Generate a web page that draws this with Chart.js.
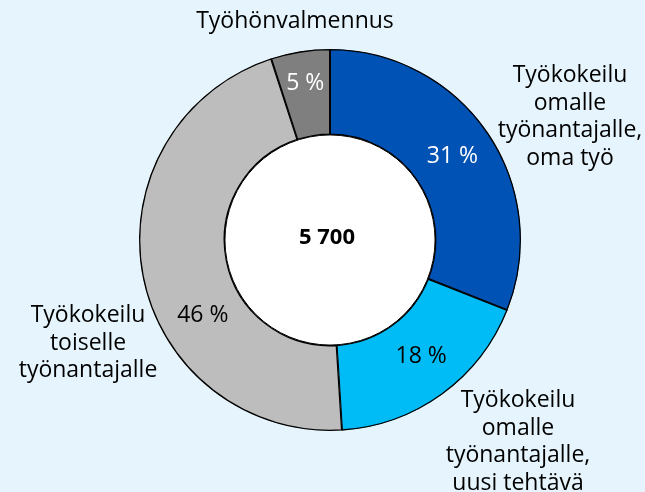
<!DOCTYPE html>
<html>
<head>
<meta charset="utf-8">
<script src="https://cdn.jsdelivr.net/npm/chart.js@4"></script>
<style>
  html, body { margin: 0; padding: 0; background: #E6F5FD; }
  #wrap { width: 645px; height: 492px; }
</style>
</head>
<body>
<div id="wrap"><canvas id="chart" width="645" height="492"></canvas></div>
<script>
// Doughnut data, clockwise from 12 o'clock
const categories = [
  "Työkokeilu omalle työnantajalle, oma työ",
  "Työkokeilu omalle työnantajalle, uusi tehtävä",
  "Työkokeilu toiselle työnantajalle",
  "Työhönvalmennus"
];
const shares = [31, 18, 46, 5];
const total = "5 700";
const colors = ["#0053B5", "#00BCF6", "#BDBDBD", "#7F7F7F"];
const valueColors = ["#FFFFFF", "#000000", "#000000", "#FFFFFF"];

// category names split the way they are wrapped in the picture
const labelLines = [
  ["Työkokeilu", "omalle", "työnantajalle,", "oma työ"],
  ["Työkokeilu", "omalle", "työnantajalle,", "uusi tehtävä"],
  ["Työkokeilu", "toiselle", "työnantajalle"],
  ["Työhönvalmennus"]
];
// where the names sit (centre x, first baseline)
const labelPos = [[570, 82], [518, 407], [88, 322], [295, 28]];
const LINE_H = 27.7;
// the 46 % label was nudged off the slice middle in the original
const valueAngleShift = [0, -2, -20, 0];
const valueRadiusShift = [0, 0, 0, 10];

const FONT = "'Open Sans', sans-serif";

const labelPlugin = {
  id: "labels",
  afterDatasetsDraw(chart) {
    const ctx = chart.ctx;
    const meta = chart.getDatasetMeta(0);
    const arc0 = meta.data[0];
    ctx.save();
    // white hole
    ctx.beginPath();
    ctx.arc(arc0.x, arc0.y, arc0.innerRadius, 0, Math.PI * 2);
    ctx.fillStyle = "#FFFFFF";
    ctx.fill();
    ctx.lineWidth = 1;
    ctx.strokeStyle = "#000000";
    ctx.stroke();

    ctx.textAlign = "center";
    ctx.textBaseline = "middle";
    ctx.font = "bold 22px " + FONT;
    ctx.fillStyle = "#000000";
    ctx.fillText(total, arc0.x - 3, arc0.y - 2);

    // percentages inside slices
    ctx.font = "23px " + FONT;
    meta.data.forEach((arc, i) => {
      const mid = (arc.startAngle + arc.endAngle) / 2 + valueAngleShift[i] * Math.PI / 180;
      const r = (arc.innerRadius + arc.outerRadius) / 2 + valueRadiusShift[i];
      ctx.fillStyle = valueColors[i];
      ctx.fillText(shares[i] + " %", arc.x + Math.cos(mid) * r, arc.y + Math.sin(mid) * r);
    });

    // category labels outside
    ctx.textBaseline = "alphabetic";
    ctx.fillStyle = "#000000";
    labelLines.forEach((lines, i) => {
      lines.forEach((t, j) => {
        ctx.fillText(t, labelPos[i][0], labelPos[i][1] + j * LINE_H);
      });
    });
    ctx.restore();
  }
};

new Chart(document.getElementById("chart"), {
  type: "doughnut",
  data: {
    labels: categories,
    datasets: [{
      data: shares,
      backgroundColor: colors,
      borderColor: "#000000",
      borderWidth: 1,
      borderAlign: "inner"
    }]
  },
  options: {
    responsive: false,
    animation: false,
    cutout: "55%",
    layout: { padding: { top: 49, bottom: 61, left: 130, right: 115 } },
    plugins: {
      legend: { display: false },
      tooltip: { enabled: false }
    }
  },
  plugins: [labelPlugin]
});
</script>
</body>
</html>
